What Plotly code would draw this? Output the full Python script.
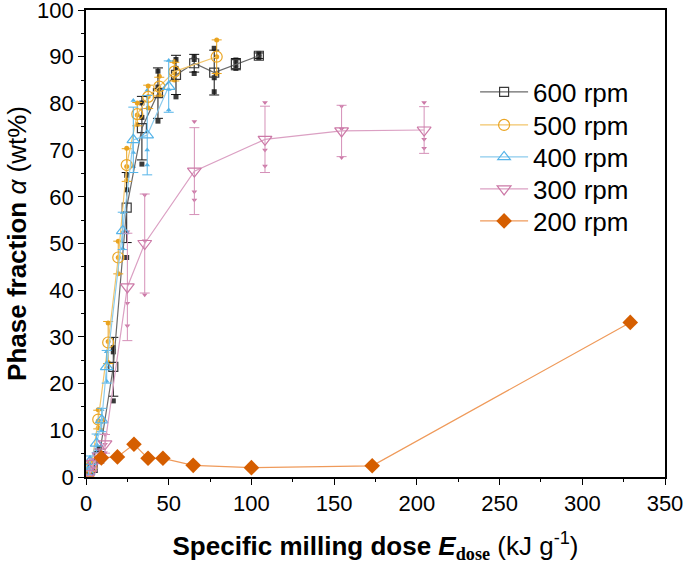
import plotly.graph_objects as go

# ---------------- data ----------------
# 600 rpm
x600 = [1.5, 4.0, 8.0, 16.5, 24.6, 33.8, 43.5, 54.4, 65.4, 77.5, 90.6, 104.5]
y600 = [0.5, 2.0, 4.5, 23.6, 57.7, 74.7, 82.2, 86.1, 88.6, 86.6, 88.4, 90.2]
e600 = [0.4, 1.0, 1.5, 6.3, 7.5, 6.8, 5.4, 4.2, 1.9, 4.8, 1.2, 0.6]
r600 = [[0.2, 0.5, 0.8], [1.0, 2.0, 3.0], [3.3, 4.0, 6.2], [16.3, 26.8, 27.7],
        [47.0, 61.5, 64.6], [67.0, 77.0, 80.1], [76.2, 83.5, 86.9], [81.4, 87.5, 89.4],
        [86.4, 89.4, 90.0], [82.5, 85.5, 91.8], [87.5, 88.4, 89.3], [89.8, 90.0, 90.7]]

# 500 rpm
x500 = [1.5, 3.2, 7.4, 13.4, 19.5, 24.6, 31.0, 37.6, 44.3, 53.4, 79.0]
y500 = [0.5, 2.2, 12.3, 28.8, 47.0, 66.8, 77.7, 81.4, 83.6, 86.8, 90.0]
e500 = [0.4, 1.0, 2.0, 4.5, 3.5, 3.5, 2.5, 2.5, 2.0, 2.0, 3.6]
r500 = [[0.2, 0.5, 0.8], [1.4, 2.0, 3.2], [10.5, 12.0, 14.4], [24.5, 29.0, 33.0],
        [43.5, 47.0, 50.5], [63.5, 66.5, 70.4], [75.5, 77.5, 80.1], [79.0, 81.5, 83.7],
        [81.8, 83.2, 85.8], [85.0, 86.5, 88.9], [86.4, 90.0, 93.6]]

# 400 rpm
x400 = [1.5, 2.4, 6.4, 9.5, 12.5, 22.2, 28.6, 37.0, 50.0]
y400 = [1.0, 3.3, 7.2, 12.2, 23.6, 52.7, 72.2, 73.2, 83.6]
e400 = [0.6, 1.2, 2.0, 2.5, 3.5, 4.0, 7.0, 8.5, 5.5]
r400 = [[0.5, 1.0, 1.5], [2.4, 3.3, 4.2], [5.5, 7.0, 9.1], [10.0, 12.2, 14.4],
        [20.5, 23.5, 26.8], [49.0, 52.5, 56.6], [66.5, 69.5, 80.6], [66.8, 70.0, 82.8],
        [78.6, 83.0, 89.2]]

# 300 rpm
x300 = [2.4, 4.4, 8.0, 11.5, 25.0, 35.5, 65.5, 108.2, 154.5, 204.4]
y300 = [0.8, 2.9, 4.5, 7.1, 40.7, 50.0, 65.5, 72.3, 74.1, 74.3]
e300 = [0.5, 1.0, 1.5, 2.0, 11.5, 10.6, 9.3, 7.1, 5.5, 5.0]
r300 = [[0.4, 0.8, 1.2], [2.0, 2.9, 3.8], [3.2, 4.5, 5.8], [5.2, 7.0, 9.1],
        [52.5, 37.2, 32.4], [60.4, 50.6, 39.0], [76.1, 61.1, 59.3], [80.2, 70.0, 66.6],
        [79.4, 74.5, 68.4], [80.2, 72.3, 70.4]]

# 200 rpm
x200 = [9.3, 19.0, 29.0, 37.5, 46.5, 64.8, 100.0, 173.0, 329.0]
y200 = [4.1, 4.3, 7.0, 4.0, 4.0, 2.5, 2.0, 2.4, 33.1]

x_ticks = [0, 50, 100, 150, 200, 250, 300, 350]
y_ticks = [0, 10, 20, 30, 40, 50, 60, 70, 80, 90, 100]

FONT = "Liberation Sans, Arial, sans-serif"

fig = go.Figure()

series = [
    ("600 rpm", x600, y600, e600, r600, "square-open", 9, "#3a3a3a", "#6a6a6a", "#111111", "square"),
    ("500 rpm", x500, y500, e500, r500, "circle-open", 11, "#eaa523", "#f2c56a", "#e9a21c", "circle"),
    ("400 rpm", x400, y400, e400, r400, "triangle-up-open", 11, "#56b4e9", "#8ccbed", "#56b4e9", "triangle-up"),
    ("300 rpm", x300, y300, e300, r300, "triangle-down-open", 12, "#cc79a7", "#dba0c3", "#d590b8", "triangle-down"),
]

# replicate points (small filled markers) drawn first
for name, xs, ys, es, reps, sym, sz, mcol, lcol, ecol, rsym in series:
    rx, ry = [], []
    for xv, rv in zip(xs, reps):
        for v in rv:
            rx.append(xv)
            ry.append(v)
    fig.add_trace(go.Scatter(x=rx, y=ry, mode="markers", showlegend=False,
                             marker=dict(symbol=rsym, size=5, color=mcol),
                             hoverinfo="skip"))

legend_ids = ["legend", "legend2", "legend3", "legend4", "legend5"]

for i, (name, xs, ys, es, reps, sym, sz, mcol, lcol, ecol, rsym) in enumerate(series):
    fig.add_trace(go.Scatter(
        x=xs, y=ys, name=name, mode="lines+markers", legend=legend_ids[i],
        line=dict(color=lcol, width=1.2),
        marker=dict(symbol=sym, size=sz, color=mcol, line=dict(color=mcol, width=1.2)),
        error_y=dict(type="data", array=es, visible=True, color=ecol, thickness=1, width=5),
    ))

fig.add_trace(go.Scatter(
    x=x200, y=y200, name="200 rpm", mode="lines+markers", legend="legend5",
    line=dict(color="#ef9a5a", width=1.2),
    marker=dict(symbol="diamond", size=12, color="#d55e00"),
))

axis_common = dict(
    showline=True, linecolor="black", linewidth=1.6, mirror=True,
    ticks="outside", ticklen=6, tickwidth=1.4, tickcolor="black",
    showgrid=False, zeroline=False, automargin=False, ticklabeloverflow="allow",
    tickfont=dict(family=FONT, size=22, color="black"),
)

fig.update_xaxes(
    range=[0, 350], tickvals=x_ticks, ticktext=[str(v) for v in x_ticks],
    minor=dict(dtick=25, tick0=0, ticks="outside", ticklen=3, tickwidth=1.2, tickcolor="black"),
    title=dict(text="<b>Specific milling dose <i>E</i></b><sub><b><span style='font-family:Liberation Serif'>dose</span></b></sub> (kJ g<sup>-1</sup>)",
               font=dict(family=FONT, size=26, color="black"), standoff=25),
    **axis_common,
)
fig.update_yaxes(
    range=[0, 100], tickvals=y_ticks, ticktext=[str(v) for v in y_ticks],
    minor=dict(dtick=5, tick0=0, ticks="outside", ticklen=3, tickwidth=1.2, tickcolor="black"),
    title=dict(text="<b>Phase fraction </b><i>α</i> (wt%)",
               font=dict(family=FONT, size=26, color="black"), standoff=3),
    **axis_common,
)

# one single-item legend per series so that row spacing can match the reference
row_y = [0.8244, 0.7537, 0.6852, 0.6167, 0.5482]
leg_common = dict(x=0.672, xanchor="left", yanchor="middle",
                  font=dict(family=FONT, size=26, color="black"),
                  bgcolor="rgba(0,0,0,0)", itemwidth=48)

fig.update_layout(
    width=685, height=564, autosize=False,
    margin=dict(l=86, r=20, t=10, b=87),
    plot_bgcolor="white", paper_bgcolor="white",
    font=dict(family=FONT, color="black"),
    legend=dict(y=row_y[0], **leg_common),
    legend2=dict(y=row_y[1], **leg_common),
    legend3=dict(y=row_y[2], **leg_common),
    legend4=dict(y=row_y[3], **leg_common),
    legend5=dict(y=row_y[4], **leg_common),
)

# remove the browser's default 8 px page margin so the figure fills the window
fig.write_html("out.html", config={"displayModeBar": False},
               post_script="document.body.style.margin='0';")
